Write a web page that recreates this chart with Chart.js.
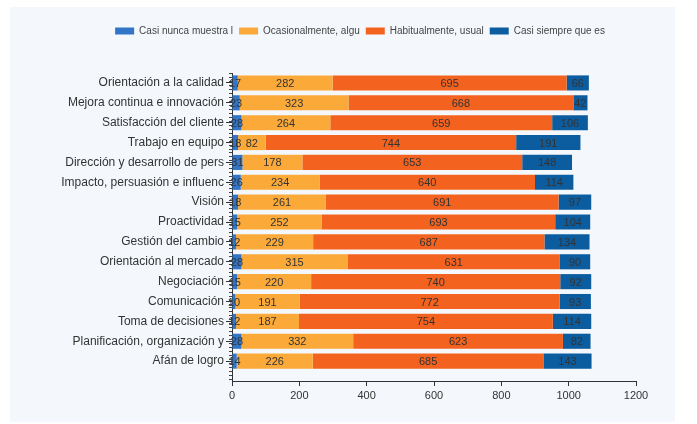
<!DOCTYPE html>
<html>
<head>
<meta charset="utf-8">
<script src="https://cdn.jsdelivr.net/npm/chart.js@4"></script>
<style>
  body { margin: 0; background: #fff; }
  #panel { position: absolute; left: 10px; top: 7px; width: 665px; height: 415px; background: #f4f8fc; }
  #wrap { position: absolute; left: 0; top: 0; width: 697px; height: 424px; }
</style>
</head>
<body>
<div id="panel"></div>
<div id="wrap"><canvas id="graph" width="697" height="424"></canvas></div>
<script>
const competencias = [
  'Orientación a la calidad', 'Mejora continua e innovación', 'Satisfacción del cliente',
  'Trabajo en equipo', 'Dirección y desarrollo de pers', 'Impacto, persuasión e influenc',
  'Visión', 'Proactividad', 'Gestión del cambio', 'Orientación al mercado',
  'Negociación', 'Comunicación', 'Toma de decisiones', 'Planificación, organización y',
  'Afán de logro'
];
const seriesNames = ['Casi nunca muestra l', 'Ocasionalmente, algu', 'Habitualmente, usual', 'Casi siempre que es'];
const casiNunca = [17, 23, 28, 18, 31, 26, 18, 15, 12, 28, 15, 10, 12, 28, 14];
const ocasional = [282, 323, 264, 82, 178, 234, 261, 252, 229, 315, 220, 191, 187, 332, 226];
const habitual = [695, 668, 659, 744, 653, 640, 691, 693, 687, 631, 740, 772, 754, 623, 685];
const casiSiempre = [66, 42, 106, 191, 148, 114, 97, 104, 134, 90, 92, 93, 114, 82, 143];
const xTicks = [0, 200, 400, 600, 800, 1000, 1200];

const colors = ['#3274c6', '#fbaa3a', '#f4621f', '#0c5da0'];
const font = 'Liberation Sans, Arial, sans-serif';

// numbers in the middle of every segment
const segmentLabels = {
  id: 'segmentLabels',
  afterDatasetsDraw(chart) {
    const ctx = chart.ctx;
    ctx.save();
    ctx.font = '11px ' + font;
    ctx.fillStyle = '#333';
    ctx.textAlign = 'center';
    ctx.textBaseline = 'middle';
    chart.data.datasets.forEach((ds, i) => {
      chart.getDatasetMeta(i).data.forEach((bar, j) => {
        ctx.fillText(ds.data[j].x, (bar.x + bar.base) / 2, bar.y + 1);
      });
    });
    ctx.restore();
  }
};

// small tick marks along the category axis
const minorTicks = {
  id: 'minorTicks',
  afterDraw(chart) {
    const y = chart.scales.y;
    const ctx = chart.ctx;
    ctx.save();
    ctx.strokeStyle = '#444';
    ctx.lineWidth = 1;
    ctx.beginPath();
    for (let v = y.min; v <= y.max + 0.001; v += 0.2) {
      const py = Math.round(y.getPixelForValue(v)) + 0.5;
      ctx.moveTo(y.right - 3, py);
      ctx.lineTo(y.right, py);
    }
    ctx.stroke();
    ctx.restore();
  }
};

// legend sits a bit right of the centre in the original
const legendShift = {
  id: 'legendShift',
  afterLayout(chart) {
    chart.legend.left += 27;
    chart.legend.right += 27;
  }
};

const series = [casiNunca, ocasional, habitual, casiSiempre];

const ctx = document.getElementById('graph').getContext('2d');
new Chart(ctx, {
  type: 'bar',
  data: {
    datasets: series.map((vals, i) => ({
      label: seriesNames[i],
      data: vals.map((v, j) => ({ x: v, y: j })),
      backgroundColor: colors[i],
      borderWidth: 0,
      barPercentage: 0.76,
      categoryPercentage: 1
    }))
  },
  options: {
    indexAxis: 'y',
    responsive: false,
    animation: false,
    layout: { padding: { left: 30, right: 61, top: 20, bottom: 20 } },
    scales: {
      x: {
        stacked: true,
        min: 0,
        max: 1200,
        afterBuildTicks: s => { s.ticks = xTicks.map(v => ({ value: v })); },
        afterFit: s => { s.height = 23; },
        ticks: { color: '#333', font: { family: font, size: 11 }, padding: 3, callback: v => String(v) },
        grid: { drawOnChartArea: false, tickLength: 5, color: '#333' },
        border: { color: '#333' }
      },
      y: {
        type: 'linear',
        stacked: true,
        reverse: true,
        offset: false,
        min: -0.5,
        max: 15,
        afterBuildTicks: s => { s.ticks = competencias.map((c, i) => ({ value: i })); },
        afterFit: s => { s.width = 202; },
        ticks: {
          autoSkip: false,
          color: '#333',
          font: { family: font, size: 12 },
          padding: 2,
          callback: v => competencias[v] ?? ''
        },
        grid: { offset: false, drawOnChartArea: false, tickLength: 6, color: '#333' },
        border: { color: '#333' }
      }
    },
    plugins: {
      legend: {
        position: 'top',
        labels: {
          boxWidth: 19,
          boxHeight: 7,
          padding: 6,
          color: '#444',
          font: { family: font, size: 10 }
        }
      },
      title: {
        display: true,
        text: '',
        weight: 100,
        padding: 0,
        font: { size: 10, lineHeight: 2.7 }
      },
      tooltip: { enabled: false }
    }
  },
  plugins: [segmentLabels, minorTicks, legendShift]
});
</script>
</body>
</html>
